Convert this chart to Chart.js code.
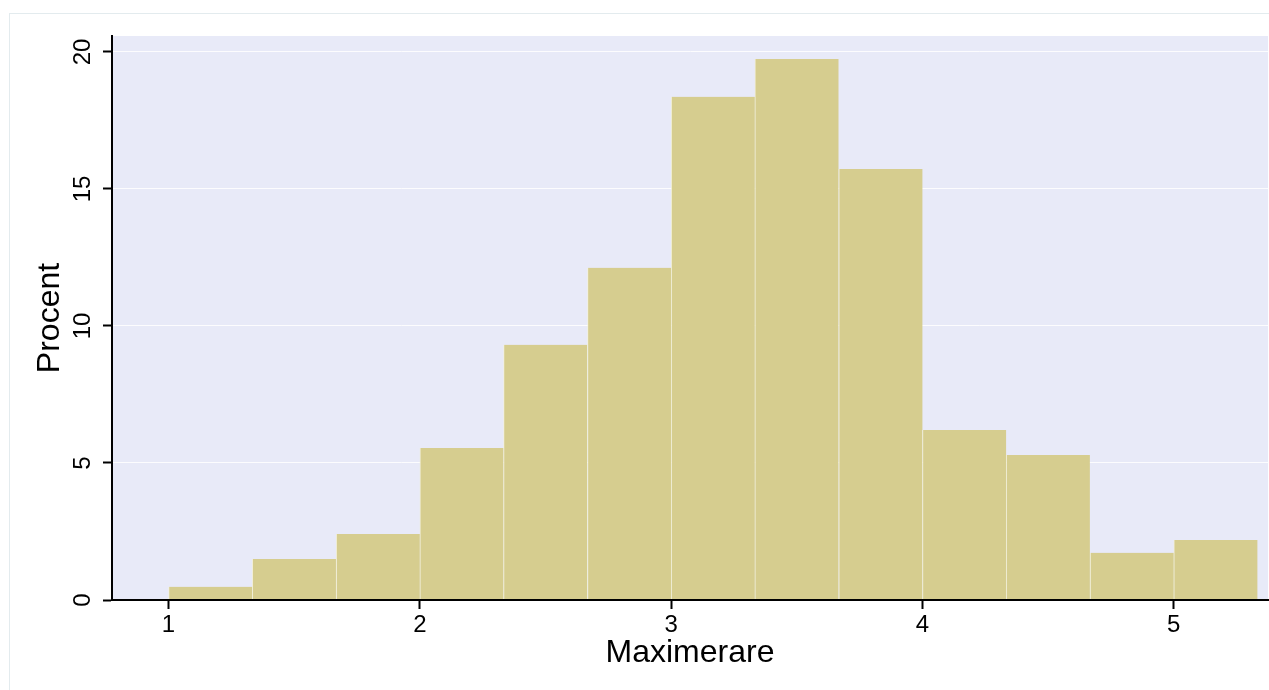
<!DOCTYPE html>
<html>
<head>
<meta charset="utf-8">
<script src="https://cdn.jsdelivr.net/npm/chart.js@4"></script>
<style>
  html, body { margin: 0; padding: 0; background: #ffffff; }
  #wrap { width: 1269px; height: 690px; }
</style>
</head>
<body>
<div id="wrap"><canvas id="c" width="1269" height="690"></canvas></div>
<script>
// ---- data ----
const binStarts = [1.000, 1.333, 1.667, 2.000, 2.333, 2.667, 3.000, 3.333, 3.667, 4.000, 4.333, 4.667, 5.000];
const binWidth = 0.3333;
const percentValues = [0.48, 1.50, 2.41, 5.55, 9.31, 12.12, 18.36, 19.74, 15.73, 6.20, 5.29, 1.72, 2.19];
const xTickLabels = [1, 2, 3, 4, 5];
const yTickLabels = [0, 5, 10, 15, 20];
const xTitle = 'Maximerare';
const yTitle = 'Procent';

const FONT = '"Liberation Sans", Arial, Helvetica, sans-serif';

const points = binStarts.map((s, i) => ({ x: s + binWidth / 2, y: percentValues[i] }));

const bgPlugin = {
  id: 'bg',
  beforeDraw(chart) {
    const { ctx, chartArea } = chart;
    ctx.save();
    ctx.fillStyle = '#ffffff';
    ctx.fillRect(0, 0, chart.width, chart.height);
    ctx.strokeStyle = '#e3ebee';
    ctx.lineWidth = 1;
    ctx.strokeRect(9.5, 13.5, chart.width, chart.height);
    ctx.fillStyle = '#e8eaf8';
    ctx.fillRect(chartArea.left, chartArea.top, chartArea.right - chartArea.left, chartArea.bottom - chartArea.top);
    ctx.restore();
  }
};

const yLabelPlugin = {
  id: 'ylabels',
  afterDraw(chart) {
    const { ctx } = chart;
    const ys = chart.scales.y;
    ctx.save();
    ctx.fillStyle = '#000';
    ctx.font = '24px ' + FONT;
    ctx.textAlign = 'center';
    ctx.textBaseline = 'middle';
    yTickLabels.forEach(v => {
      const py = ys.getPixelForValue(v);
      ctx.save();
      ctx.translate(ys.right - 29, py);
      ctx.rotate(-Math.PI / 2);
      ctx.fillText(String(v), 0, 0);
      ctx.restore();
    });
    ctx.restore();
  }
};

new Chart(document.getElementById('c'), {
  type: 'bar',
  data: {
    datasets: [{
      label: yTitle,
      data: points,
      backgroundColor: '#d6cd8f',
      borderColor: 'rgba(245,243,215,0.8)',
      borderWidth: { left: 1, right: 0, top: 0, bottom: 0 },
      borderSkipped: false,
      barPercentage: 1,
      categoryPercentage: 1
    }]
  },
  options: {
    responsive: false,
    animation: false,
    devicePixelRatio: 1,
    layout: { padding: { top: 36, right: 1, left: 0, bottom: 0 } },
    plugins: {
      legend: { display: false },
      tooltip: { enabled: false },
      title: { display: false }
    },
    scales: {
      x: {
        type: 'linear',
        min: 0.775,
        max: 5.375,
        offset: false,
        afterFit(s) { s.height = 90; },
        afterBuildTicks(s) { s.ticks = xTickLabels.map(v => ({ value: v })); },
        ticks: {
          includeBounds: false,
          stepSize: 1,
          padding: 2,
          color: '#000',
          font: { family: FONT, size: 24 },
          maxRotation: 0,
          minRotation: 0,
          callback: v => String(v)
        },
        grid: {
          offset: false,
          drawOnChartArea: false,
          drawTicks: true,
          tickLength: 9,
          tickColor: '#000',
          tickWidth: 2
        },
        border: { display: true, color: '#000', width: 2, z: 1 },
        title: {
          display: true,
          text: xTitle,
          color: '#000',
          font: { family: FONT, size: 32, lineHeight: 1.2 },
          padding: { top: 0, bottom: 18 }
        }
      },
      y: {
        type: 'linear',
        min: 0,
        max: 20.58,
        afterFit(s) { s.width = 112; },
        afterBuildTicks(s) { s.ticks = yTickLabels.map(v => ({ value: v })); },
        ticks: {
          display: false,
          includeBounds: false,
          stepSize: 5
        },
        grid: {
          offset: false,
          drawOnChartArea: true,
          color: 'rgba(255,255,255,0.85)',
          lineWidth: 1,
          drawTicks: true,
          tickLength: 9,
          tickColor: '#000',
          tickWidth: 2
        },
        border: { display: true, color: '#000', width: 2, z: 1 },
        title: {
          display: true,
          text: yTitle,
          color: '#000',
          font: { family: FONT, size: 32, lineHeight: 1.2 },
          padding: { top: 31, bottom: 0 }
        }
      }
    }
  },
  plugins: [bgPlugin, yLabelPlugin]
});
</script>
</body>
</html>
